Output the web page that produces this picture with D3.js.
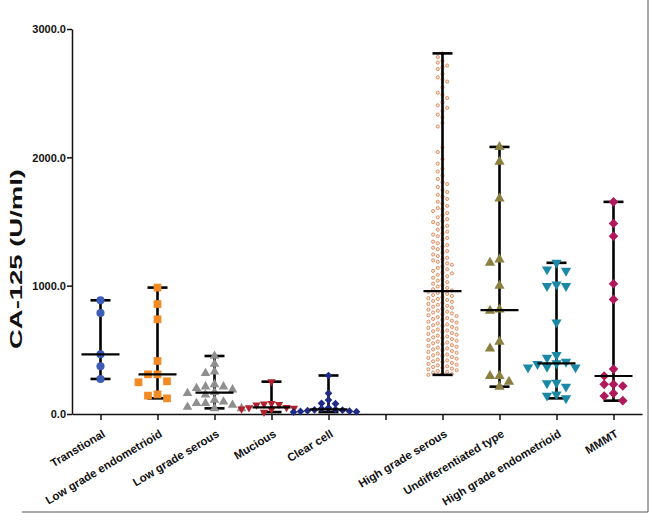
<!DOCTYPE html>
<html><head><meta charset="utf-8">
<script src="https://cdn.jsdelivr.net/npm/d3@7"></script>
<style>
body{margin:0;background:#fff;}
svg text{font-family:"Liberation Sans",Arial,sans-serif;font-weight:bold;fill:#111;}
</style></head>
<body><svg id="c" width="653" height="520"></svg>
<script>
const categories = ["Transtional","Low grade endometrioid","Low grade serous","Mucious","Clear cell","","High grade serous","Undifferentiated type","High grade endometrioid","MMMT"];
const yTicks = [0,1000,2000,3000];

const transitional = [886,787,465,372,273];
const lowGradeEndometrioid = [985,857,738,413,309,309,255,247,153,143,122];
const lowGradeSerous = [452,390,330,317,231,213,213,200,190,170,162,150,109,96,83,83,70,55,44,44];
const mucinous = [252,82,78,75,70,52,50,45,40,35,15];
const clearCell = [300,161,109,83,80,48,42,36,33,30,26,22,20,18,15];
const highGradeSerous = [
2810,2781,2752,2738,2715,2701,
2688,2651,2623,2607,
2590,2544,2503,
2488,2462,2427,2405,
2386,2361,2333,2312,
2268,2240,
2077,2041,
1986,1951,1912,
1889,1858,1831,1806,
1792,1768,1745,1729,1708,
1693,1676,1654,1640,1622,1605,
1596,1581,1566,1549,1533,1518,1503,
1495,1481,1467,1452,1436,1421,1407,
1398,1385,1372,1357,1343,1331,1316,1304,
1296,1284,1270,1258,1243,1231,1217,1205,
1197,1186,1174,1163,1150,1138,1127,1115,1103,
1096,1085,1073,1062,1051,1039,1027,1016,1004,
994,983,972,963,
958,
952,944,936,927,920,911,903,
896,889,881,874,866,858,851,843,836,828,820,813,805,
798,791,784,777,770,763,755,748,741,734,727,720,713,706,
698,692,685,678,671,665,658,651,645,638,631,624,618,611,604,
597,591,584,577,571,564,557,551,544,537,531,524,517,511,504,
497,491,484,477,471,464,457,451,444,437,431,424,417,411,404,
398,391,385,379,372,366,360,354,348,341,335,329,322,316,310,305];
const undifferentiated = [2081,1965,1680,1204,1178,999,815,805,563,511,296,296,252,213];
const highGradeEndometrioid = [1178,1127,1116,1010,997,997,714,459,438,407,395,390,368,363,363,244,240,213,153,143,122];
const mmmt = [1653,1485,1386,1015,893,350,296,231,231,218,161,140,104];

const groups = [
  {cat:categories[0], values:transitional, shape:"circle", color:"#3d5cb8", size:52, step:9.5, th:8},
  {cat:categories[1], values:lowGradeEndometrioid, shape:"square", color:"#f28a26", size:60, step:9.5, th:8},
  {cat:categories[2], values:lowGradeSerous, shape:"triangle", color:"#8f8f8f", size:40, step:9, th:7},
  {cat:categories[3], values:mucinous, shape:"triangleDown", color:"#b0202e", size:30, step:7.5, th:6},
  {cat:categories[4], values:clearCell, shape:"diamond", color:"#1f2b85", size:30, step:7, th:5},
  {cat:categories[6], values:highGradeSerous, shape:"dot", color:"#fbe2d0", stroke:"#d67c4e", size:8, step:4.7, th:5.5, barsOnTop:true},
  {cat:categories[7], values:undifferentiated, shape:"triangle", color:"#8a8040", size:46, step:9.5, th:8},
  {cat:categories[8], values:highGradeEndometrioid, shape:"triangleDown", color:"#1b89a6", size:46, step:9.5, th:8},
  {cat:categories[9], values:mmmt, shape:"diamond", color:"#b01a5c", size:46, step:9.3, th:8}
];

const svg = d3.select("#c");
const x = d3.scalePoint().domain(categories).range([72,642]).padding(0.5);
const y = d3.scaleLinear().domain([0,3000]).range([414,29]);

// frame
svg.append("path").attr("d","M648,0V512H22").attr("fill","none").attr("stroke","#555").attr("stroke-width",1);

// axes
const gy = svg.append("g").attr("transform","translate(72,0)")
  .call(d3.axisLeft(y).tickValues(yTicks).tickFormat(d3.format(".1f")).tickSize(5).tickSizeOuter(0));
gy.select(".domain").attr("stroke","#111").attr("stroke-width",1.5);
gy.selectAll(".tick line").attr("stroke","#111").attr("stroke-width",1.5);
gy.selectAll(".tick text").attr("font-size",11).attr("x",-6).attr("dy","0.35em");

const gx = svg.append("g").attr("transform","translate(0,414)")
  .call(d3.axisBottom(x).tickSize(6).tickSizeOuter(0));
gx.select(".domain").attr("stroke","#111").attr("stroke-width",1.5);
gx.selectAll(".tick line").attr("stroke","#111").attr("stroke-width",1.5);
gx.selectAll(".tick text").attr("font-size",11.5).attr("text-anchor","end")
  .attr("x",0).attr("y",0).attr("dy",0)
  .attr("transform","translate(5,22) rotate(-31)");

svg.append("text").attr("transform","translate(22,259) rotate(-90)")
  .attr("text-anchor","middle").attr("font-size",17)
  .attr("textLength",180).attr("lengthAdjust","spacingAndGlyphs").text("CA-125 (U/ml)");

function swarm(values, cx, step, th){
  const placed = [];
  return values.slice().sort((a,b)=>b-a).map(v=>{
    const py = y(v);
    for(let k=0;;k++){
      const off = k===0 ? 0 : (k%2===1 ? -Math.ceil(k/2) : k/2)*step;
      if(!placed.some(p=>p.off===off && Math.abs(p.y-py)<th)){
        placed.push({off, y:py}); return {v, x:cx+off, y:py};
      }
    }
  });
}

const symMap = {circle:d3.symbolCircle, square:d3.symbolSquare, triangle:d3.symbolTriangle,
  triangleDown:d3.symbolTriangle, diamond:d3.symbolSquare, dot:d3.symbolCircle};
const rotMap = {triangleDown:180, diamond:45};

function drawBars(cx, mn, mx){
  const bars = svg.append("g").attr("stroke","#000").attr("stroke-width",2.6);
  bars.append("line").attr("x1",cx).attr("x2",cx).attr("y1",y(mn)).attr("y2",y(mx));
  bars.append("line").attr("x1",cx-10).attr("x2",cx+10).attr("y1",y(mn)).attr("y2",y(mn));
  bars.append("line").attr("x1",cx-10).attr("x2",cx+10).attr("y1",y(mx)).attr("y2",y(mx));
}

groups.forEach(g=>{
  const cx = x(g.cat);
  const [mn,mx] = d3.extent(g.values);
  const med = d3.median(g.values);
  if(!g.barsOnTop) drawBars(cx, mn, mx);
  const pts = swarm(g.values, cx, g.step, g.th);
  const sym = d3.symbol().type(symMap[g.shape]).size(g.size);
  const rot = rotMap[g.shape]||0;
  svg.append("g").selectAll("path").data(pts).join("path")
    .attr("d", sym)
    .attr("transform", d=>`translate(${d.x},${d.y}) rotate(${rot})`)
    .attr("fill", g.color)
    .attr("stroke", g.stroke||"none")
    .attr("stroke-width", g.stroke?0.8:0);
  if(g.barsOnTop) drawBars(cx, mn, mx);
  svg.append("line").attr("stroke","#000").attr("stroke-width",2.2)
    .attr("x1",cx-19).attr("x2",cx+19).attr("y1",y(med)).attr("y2",y(med));
});
</script></body></html>
